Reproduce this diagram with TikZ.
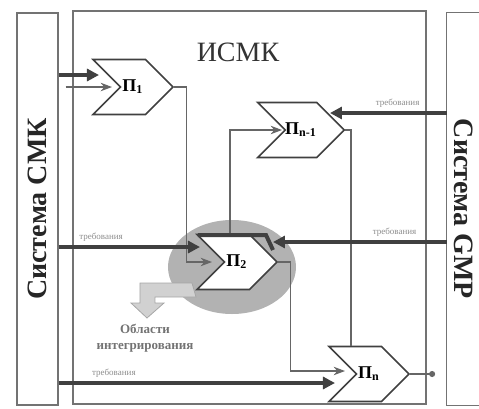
\documentclass[tikz,border=0pt]{standalone}
\usepackage{fontspec}
\setmainfont{Liberation Serif}
\usetikzlibrary{arrows.meta,calc,shapes.symbols,shapes.geometric}

\begin{document}
\begin{tikzpicture}[x=0.5pt,y=-0.5pt,>=Stealth,
  sys/.style={draw=black!55,line width=0.6pt},
  systxt/.style={font=\fontsize{14}{16}\selectfont\bfseries,text=black!85},
  proc/.style={signal,signal from=west,signal to=east,draw=black!75,line width=0.8pt,fill=white,
    minimum width=40pt,minimum height=27.5pt,inner sep=0pt,font=\fontsize{9}{10}\selectfont\bfseries},
  conn/.style={draw=black!60,line width=0.6pt},
  req/.style={draw=black!75,line width=2pt,-{Triangle[length=6pt,width=6pt]}},
  lab/.style={font=\fontsize{4.5}{5}\selectfont,text=black!45,inner sep=1pt}]

\useasboundingbox (0,0) rectangle (479,409);

%% the three systems
\node[sys,minimum width=20.5pt,minimum height=196pt] (smk) at (37.5,209) {};
\node[systxt,rotate=90] (smktxt) at (smk) {Система СМК};
\node[sys,minimum width=176.5pt,minimum height=196.5pt] (ismk) at (249.5,207.5) {};
\node[font=\fontsize{14}{16}\selectfont,text=black!80] (title) at (238,52) {ИСМК};
\node[minimum width=23pt,minimum height=196pt] (gmp) at (470,209) {};
\draw[sys] (gmp.north east) -- (gmp.north west) -- (gmp.south west) -- (gmp.south east);
\node[systxt,rotate=-90] (gmptxt) at (464,209) {Система GMP};

%% integration zone round P2
\node[ellipse,fill=black!30,minimum width=64pt,minimum height=47pt] (zone) at (232,267) {};
\fill[black!18,draw=black!35] (192,283) -- (140,283) -- (140,303) -- (131,303) -- (147,318)
  -- (164,303) -- (155,303) -- (155,297) -- (196,297) -- cycle;
\node[font=\fontsize{6.5}{8}\selectfont\bfseries,text=black!55,align=center] (ztxt) at (145,338)
  {Области\\ интегрирования};

%% processes
\node[proc] (p1) at (133,87) {П\textsubscript{1}};
\node[proc] (pn1) at (301,130) {П\textsubscript{n-1}};
\node[proc] (p2) at (237,262) {П\textsubscript{2}};
\node[proc] (pn) at (369,374) {П\textsubscript{n}};

%% links between processes
\draw[conn,->] ($(smk.east|-p1)+(7,0)$) -- ($(p1)+(-21,0)$);
\draw[conn,->] (p1.east) -- ++(12,0) |- ($(p2)+(-25,0)$);
\draw[conn,->] ($(p2.north)+(-7,0)$) |- ($(pn1)+(-19,0)$);
\draw[conn] (pn1.east) -| ($(pn.north)+(-18,0)$);
\draw[conn,->] (p2.east) -- ++(12,0) |- ($(pn)+(-24,-3)$);
\draw[conn,-{Circle[length=3pt]}] (pn.east) -- ++(25,0);

%% requirements
\draw[req] ($(smk.east|-p1)+(0,-12)$) -- ($(p1)+(-34,-12)$);
\draw[req] ($(smk.east|-p2)+(0,-15)$) -- ($(p2)+(-37,-15)$) node[lab,pos=0.3,above=1pt] {требования};
\draw[req] ($(smk.east|-pn)+(0,9)$) -- ($(pn)+(-34,9)$) node[lab,pos=0.2,above=1pt] {требования};
\draw[req] ($(gmp.west|-pn1)+(0,-17)$) -- ($(pn1)+(29,-17)$) node[lab,pos=0.42,above=1pt] {требования};
\draw[req] ($(gmp.west|-p2)+(0,-20)$) -- ($(p2)+(36,-20)$) node[lab,pos=0.3,above=1pt] {требования};

%% marked edge of P2
\draw[black!75,line width=2pt] ($(p2)+(-39,-27)$) -- ($(p2)+(29,-27)$) -- ($(p2)+(36,-12)$);
\end{tikzpicture}
\end{document}
